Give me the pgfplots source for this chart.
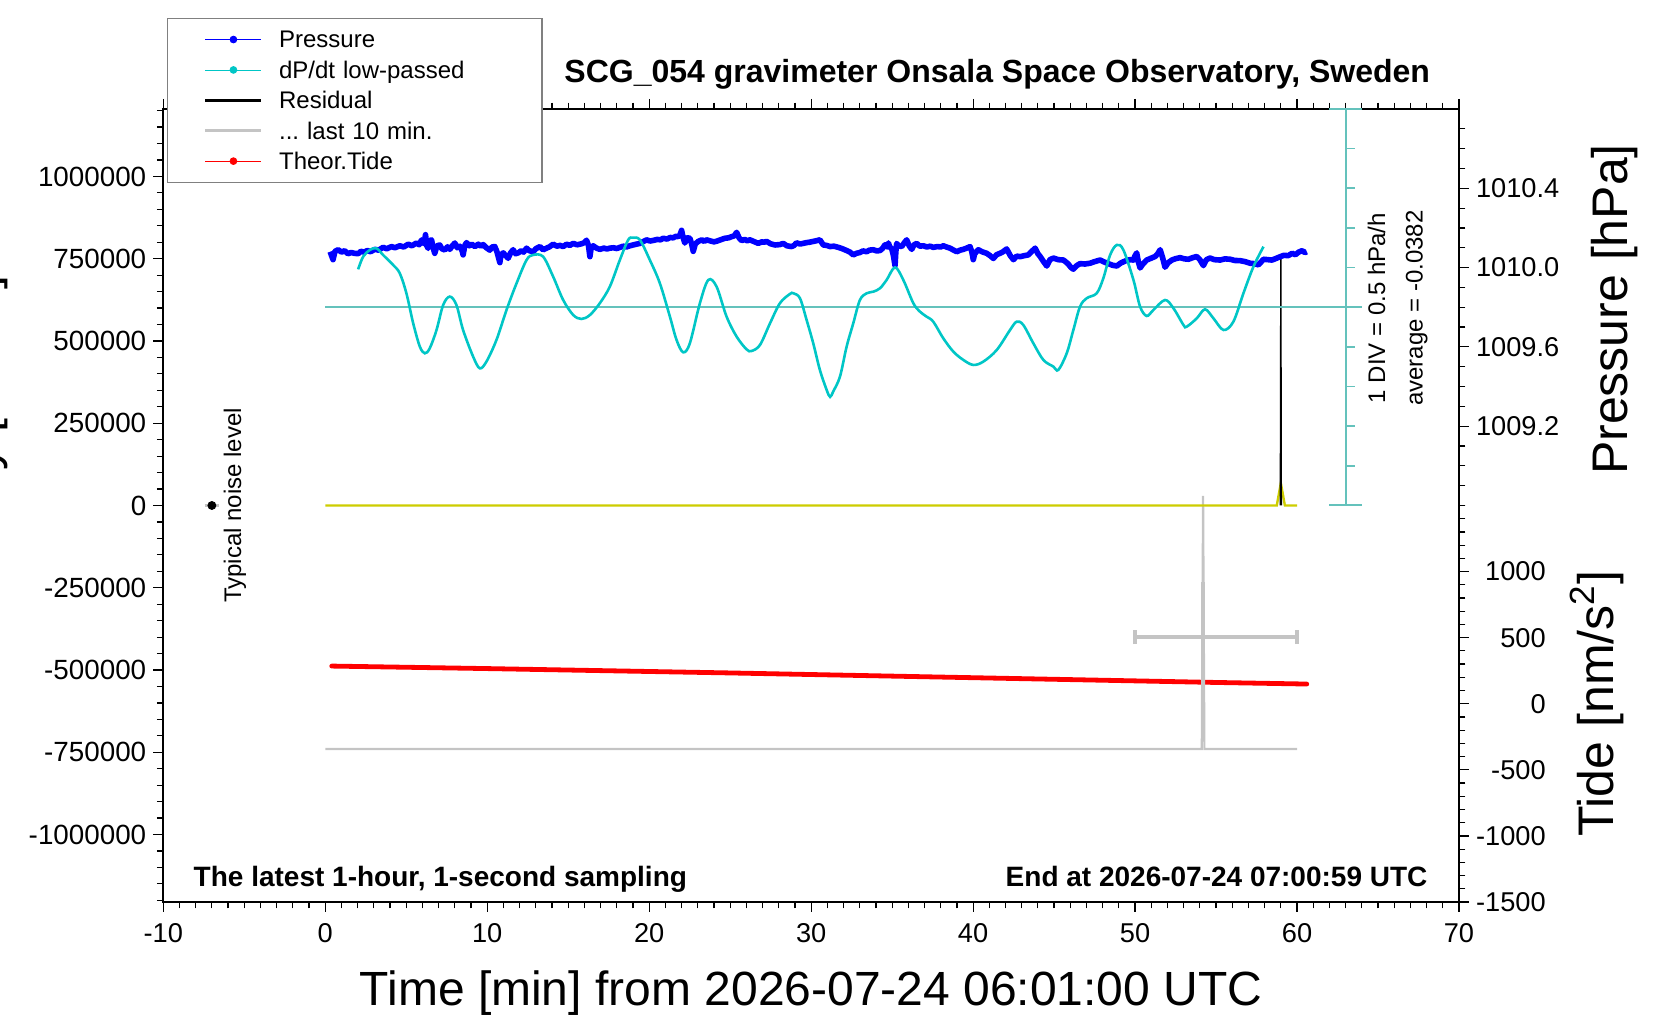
\documentclass[border=0pt]{standalone}
\usepackage{fontspec}
\setmainfont{Liberation Sans}
\usepackage{pgfplots}
\usepackage{pgfplotstable}
\pgfplotsset{compat=1.18}

\definecolor{presscol}{RGB}{0,0,255}
\definecolor{cyancol}{RGB}{0,198,198}
\definecolor{scalecol}{RGB}{100,194,188}
\definecolor{yelcol}{RGB}{205,205,0}
\definecolor{graycol}{RGB}{196,196,196}
\definecolor{legborder}{RGB}{128,128,128}

\pgfplotstableread[row sep=\\]{
x p\\
0.30 1010.080\\ 0.48 1010.040\\ 0.60 1010.082\\ 0.80 1010.090\\ 1.00 1010.078\\
1.20 1010.085\\ 1.40 1010.070\\ 1.60 1010.076\\ 1.80 1010.072\\ 2.03 1010.070\\
2.20 1010.082\\ 2.40 1010.078\\ 2.60 1010.086\\ 2.80 1010.080\\ 3.06 1010.092\\
3.30 1010.088\\ 3.57 1010.102\\ 3.80 1010.095\\ 4.09 1010.106\\ 4.30 1010.100\\
4.60 1010.110\\ 4.85 1010.104\\ 5.12 1010.118\\ 5.35 1010.110\\ 5.63 1010.124\\
5.80 1010.115\\ 5.94 1010.139\\ 6.10 1010.120\\ 6.19 1010.166\\ 6.27 1010.110\\
6.35 1010.097\\ 6.45 1010.135\\ 6.56 1010.140\\ 6.66 1010.100\\ 6.76 1010.072\\
6.90 1010.110\\ 7.07 1010.114\\ 7.20 1010.095\\ 7.38 1010.089\\ 7.55 1010.105\\
7.69 1010.092\\ 7.85 1010.110\\ 8.00 1010.124\\ 8.15 1010.100\\ 8.31 1010.108\\
8.45 1010.085\\ 8.51 1010.064\\ 8.62 1010.112\\ 8.72 1010.126\\ 8.90 1010.110\\
9.05 1010.118\\ 9.24 1010.106\\ 9.45 1010.118\\ 9.60 1010.108\\ 9.75 1010.116\\
9.95 1010.100\\ 10.16 1010.088\\ 10.30 1010.104\\ 10.47 1010.106\\ 10.60 1010.080\\
10.78 1010.025\\ 10.85 1010.065\\ 10.99 1010.074\\ 11.15 1010.060\\ 11.29 1010.047\\
11.45 1010.075\\ 11.60 1010.090\\ 11.75 1010.070\\ 11.91 1010.074\\ 12.10 1010.085\\
12.25 1010.078\\ 12.43 1010.098\\ 12.60 1010.085\\ 12.84 1010.080\\ 13.00 1010.095\\
13.25 1010.106\\ 13.45 1010.090\\ 13.66 1010.098\\ 13.85 1010.105\\ 14.07 1010.118\\
14.30 1010.108\\ 14.50 1010.112\\ 14.69 1010.106\\ 14.90 1010.118\\ 15.10 1010.112\\
15.31 1010.122\\ 15.55 1010.115\\ 15.82 1010.120\\ 16.00 1010.126\\ 16.13 1010.138\\
16.25 1010.112\\ 16.34 1010.055\\ 16.42 1010.100\\ 16.54 1010.110\\ 16.75 1010.098\\
16.95 1010.092\\ 17.20 1010.098\\ 17.40 1010.094\\ 17.57 1010.098\\ 17.80 1010.100\\
18.00 1010.096\\ 18.19 1010.102\\ 18.40 1010.108\\ 18.60 1010.104\\ 18.81 1010.110\\
19.00 1010.114\\ 19.20 1010.118\\ 19.43 1010.122\\ 19.60 1010.130\\ 19.84 1010.140\\
20.05 1010.134\\ 20.25 1010.137\\ 20.50 1010.142\\ 20.70 1010.140\\ 20.86 1010.148\\
21.10 1010.144\\ 21.30 1010.152\\ 21.48 1010.150\\ 21.65 1010.158\\ 21.79 1010.156\\
21.90 1010.165\\ 22.00 1010.188\\ 22.10 1010.150\\ 22.20 1010.124\\ 22.35 1010.150\\
22.51 1010.148\\ 22.62 1010.120\\ 22.72 1010.082\\ 22.85 1010.120\\ 23.03 1010.132\\
23.25 1010.140\\ 23.40 1010.132\\ 23.54 1010.140\\ 23.80 1010.134\\ 24.00 1010.130\\
24.16 1010.133\\ 24.40 1010.140\\ 24.68 1010.148\\ 24.90 1010.150\\ 25.09 1010.156\\
25.25 1010.160\\ 25.40 1010.178\\ 25.55 1010.150\\ 25.71 1010.136\\ 25.90 1010.142\\
26.05 1010.135\\ 26.22 1010.140\\ 26.45 1010.132\\ 26.74 1010.122\\ 26.95 1010.130\\
27.10 1010.128\\ 27.25 1010.132\\ 27.50 1010.120\\ 27.77 1010.114\\ 28.07 1010.116\\
28.28 1010.122\\ 28.50 1010.110\\ 28.79 1010.106\\ 28.95 1010.112\\ 29.10 1010.125\\
29.31 1010.119\\ 29.50 1010.122\\ 29.72 1010.126\\ 29.90 1010.128\\ 30.13 1010.132\\
30.35 1010.136\\ 30.54 1010.140\\ 30.75 1010.114\\ 30.95 1010.112\\ 31.17 1010.106\\
31.40 1010.108\\ 31.68 1010.102\\ 31.90 1010.096\\ 32.19 1010.086\\ 32.40 1010.078\\
32.60 1010.064\\ 32.80 1010.072\\ 33.01 1010.076\\ 33.20 1010.084\\ 33.43 1010.080\\
33.60 1010.088\\ 33.84 1010.090\\ 34.05 1010.084\\ 34.25 1010.086\\ 34.40 1010.096\\
34.56 1010.115\\ 34.68 1010.104\\ 34.77 1010.124\\ 34.87 1010.100\\ 34.97 1010.098\\
35.08 1010.060\\ 35.18 1010.010\\ 35.23 1010.080\\ 35.28 1010.122\\ 35.40 1010.110\\
35.59 1010.106\\ 35.75 1010.125\\ 35.90 1010.140\\ 36.05 1010.110\\ 36.21 1010.092\\
36.35 1010.115\\ 36.52 1010.122\\ 36.70 1010.108\\ 36.93 1010.110\\ 37.15 1010.104\\
37.35 1010.108\\ 37.54 1010.102\\ 37.80 1010.106\\ 38.00 1010.104\\ 38.16 1010.110\\
38.35 1010.104\\ 38.57 1010.098\\ 38.80 1010.088\\ 38.99 1010.080\\ 39.20 1010.088\\
39.40 1010.092\\ 39.60 1010.098\\ 39.81 1010.106\\ 39.92 1010.080\\ 40.01 1010.040\\
40.10 1010.070\\ 40.32 1010.090\\ 40.55 1010.080\\ 40.84 1010.072\\ 41.05 1010.060\\
41.25 1010.046\\ 41.45 1010.065\\ 41.66 1010.072\\ 41.85 1010.080\\ 42.07 1010.094\\
42.30 1010.060\\ 42.49 1010.040\\ 42.70 1010.058\\ 42.90 1010.055\\ 43.15 1010.060\\
43.41 1010.064\\ 43.60 1010.080\\ 43.83 1010.098\\ 44.00 1010.070\\ 44.14 1010.056\\
44.35 1010.030\\ 44.55 1010.008\\ 44.75 1010.040\\ 44.96 1010.048\\ 45.25 1010.040\\
45.58 1010.038\\ 45.85 1010.020\\ 46.05 1010.000\\ 46.19 1009.992\\ 46.40 1010.010\\
46.60 1010.020\\ 46.90 1010.018\\ 47.22 1010.022\\ 47.50 1010.030\\ 47.84 1010.038\\
48.10 1010.028\\ 48.35 1010.020\\ 48.60 1010.012\\ 48.87 1010.008\\ 49.10 1010.022\\
49.30 1010.030\\ 49.48 1010.036\\ 49.70 1010.040\\ 49.90 1010.038\\ 50.00 1010.060\\
50.10 1010.074\\ 50.20 1010.030\\ 50.31 1009.998\\ 50.50 1010.020\\ 50.72 1010.038\\
50.95 1010.046\\ 51.24 1010.056\\ 51.40 1010.070\\ 51.55 1010.090\\ 51.70 1010.050\\
51.85 1010.002\\ 52.05 1010.025\\ 52.27 1010.038\\ 52.50 1010.045\\ 52.78 1010.050\\
53.05 1010.044\\ 53.30 1010.042\\ 53.55 1010.050\\ 53.81 1010.056\\ 54.00 1010.040\\
54.22 1010.010\\ 54.40 1010.040\\ 54.63 1010.048\\ 54.90 1010.040\\ 55.25 1010.038\\
55.55 1010.044\\ 55.87 1010.042\\ 56.15 1010.036\\ 56.48 1010.035\\ 56.80 1010.030\\
57.10 1010.022\\ 57.35 1010.020\\ 57.62 1010.014\\ 57.80 1010.030\\ 57.93 1010.042\\
58.20 1010.040\\ 58.45 1010.038\\ 58.70 1010.046\\ 58.96 1010.055\\ 59.20 1010.062\\
59.45 1010.060\\ 59.70 1010.072\\ 59.90 1010.065\\ 60.10 1010.078\\ 60.30 1010.085\\
60.50 1010.076\\ 60.60 1010.080\\
}\pressdata

\pgfplotstableread[row sep=\\]{
x v\\
2.03 0.478\\ 2.34 0.638\\ 2.75 0.722\\ 3.16 0.743\\ 3.57 0.659\\ 4.19 0.533\\
4.60 0.428\\ 5.01 0.176\\ 5.43 -0.203\\ 5.84 -0.497\\ 6.15 -0.581\\ 6.45 -0.518\\
6.87 -0.287\\ 7.28 0.028\\ 7.69 0.134\\ 8.10 0.028\\ 8.51 -0.287\\ 9.13 -0.623\\
9.54 -0.770\\ 9.95 -0.686\\ 10.57 -0.413\\ 11.19 -0.035\\ 11.81 0.302\\ 12.43 0.596\\
12.84 0.659\\ 13.45 0.638\\ 14.07 0.386\\ 14.69 0.091\\ 15.31 -0.098\\ 15.82 -0.148\\
16.34 -0.098\\ 16.95 0.050\\ 17.57 0.260\\ 18.19 0.596\\ 18.70 0.848\\ 19.01 0.877\\
19.43 0.848\\ 20.04 0.596\\ 20.66 0.302\\ 21.28 -0.119\\ 21.69 -0.413\\ 22.10 -0.568\\
22.51 -0.455\\ 23.13 0.050\\ 23.65 0.344\\ 24.16 0.260\\ 24.78 -0.119\\ 25.40 -0.371\\
26.01 -0.531\\ 26.32 -0.552\\ 26.84 -0.476\\ 27.46 -0.203\\ 28.07 0.050\\ 28.69 0.167\\
28.90 0.176\\ 29.31 0.113\\ 29.72 -0.161\\ 30.13 -0.455\\ 30.54 -0.791\\ 30.96 -1.044\\
31.17 -1.130\\ 31.37 -1.060\\ 31.78 -0.875\\ 32.19 -0.497\\ 32.60 -0.203\\ 33.01 0.091\\
33.43 0.176\\ 33.84 0.196\\ 34.25 0.239\\ 34.66 0.344\\ 35.18 0.503\\ 35.69 0.344\\
36.31 0.050\\ 36.72 -0.056\\ 37.13 -0.119\\ 37.54 -0.182\\ 38.16 -0.392\\ 38.78 -0.560\\
39.40 -0.665\\ 40.01 -0.728\\ 40.63 -0.686\\ 41.46 -0.539\\ 42.28 -0.287\\ 42.69 -0.182\\
43.10 -0.224\\ 43.72 -0.455\\ 44.34 -0.665\\ 44.96 -0.749\\ 45.26 -0.791\\ 45.78 -0.581\\
46.19 -0.287\\ 46.60 0.007\\ 47.01 0.113\\ 47.63 0.176\\ 48.04 0.365\\ 48.46 0.659\\
48.87 0.785\\ 49.28 0.722\\ 49.90 0.344\\ 50.31 0.007\\ 50.72 -0.110\\ 51.13 -0.035\\
51.85 0.091\\ 52.37 -0.013\\ 52.99 -0.224\\ 53.19 -0.245\\ 53.81 -0.140\\ 54.32 -0.026\\
54.84 -0.140\\ 55.46 -0.287\\ 56.07 -0.182\\ 56.69 0.176\\ 57.31 0.512\\ 57.93 0.764\\
}\dpdata

\pgfplotstableread[row sep=\\]{
x t\\
0.4 285\\ 5 276\\ 10 266\\ 15 255\\ 20 244\\ 25 233\\ 30 221\\
35 209\\ 40 197\\ 45 185\\ 50 173\\ 55 161\\ 60.6 149\\
}\tidedata

\pgfplotsset{
  base/.style={
    at={(0pt,0pt)}, anchor=south west,
    scale only axis, width=647.85pt, height=396.5pt,
    xmin=-10, xmax=70,
    axis line style={line width=1pt},
    tick style={black, line width=0.6pt},
    tick align=outside,
    major tick length=5pt, minor tick length=3.2pt,
    /pgf/number format/assume math mode=true,
    tick label style={font=\fontsize{13.6}{16}\selectfont},
    clip=false,
  }
}

\begin{document}
\begin{tikzpicture}
% ---------- Tide axis (lower right) ----------
\begin{axis}[base,
  ymin=-1500, ymax=4500,
  axis x line=none, axis y line*=right,
  ytick={-1500,-1000,-500,0,500,1000},
  minor ytick={-1400,-1300,...,1500},
  yticklabel style={/pgf/number format/1000 sep={}, text width=34.8pt, align=right},
]
\addplot[red, line width=2.4pt, line cap=round] table[x=x,y=t] {\tidedata};
\end{axis}

% ---------- Main (gravity) axis ----------
\begin{axis}[base,
  ymin=-1205000, ymax=1205000,
  xtick={-10,0,10,20,30,40,50,60,70},
  minor xtick={-10,-9,...,70},
  xtick pos=both,
  xticklabel style={yshift=-2.4pt},
  ytick={-1000000,-750000,-500000,-250000,0,250000,500000,750000,1000000},
  minor ytick={-1200000,-1150000,-1100000,-1050000,-1000000,-950000,-900000,-850000,-800000,-750000,-700000,-650000,-600000,-550000,-500000,-450000,-400000,-350000,-300000,-250000,-200000,-150000,-100000,-50000,0,50000,100000,150000,200000,250000,300000,350000,400000,450000,500000,550000,600000,650000,700000,750000,800000,850000,900000,950000,1000000,1050000,1100000,1150000,1200000},
  ytick pos=left,
  scaled y ticks=false,
  yticklabel style={/pgf/number format/fixed, /pgf/number format/1000 sep={}, font=\fontsize{13.9}{16}\selectfont},
  legend cell align=left,
  legend image code/.code={\draw[mark repeat=2,mark phase=2,#1] plot coordinates {(0pt,0pt) (14pt,0pt) (28pt,0pt)};},
  legend style={at={(0.003,1.1148)}, anchor=north west,
    draw=legborder, line width=0.6pt, fill=white,
    inner xsep=18pt, inner ysep=4.5pt, row sep=3.2pt, column sep=8pt,
    font=\fontsize{12}{14}\selectfont,
    nodes={inner sep=0pt, text height=10.2pt, text depth=1.8pt},
    /tikz/every even column/.append style={text width=113.5pt}},
]
\addlegendimage{presscol, line width=0.4pt, mark=*, mark size=1.7pt}
\addlegendentry{Pressure}
\addlegendimage{cyancol, line width=0.4pt, mark=*, mark size=1.7pt}
\addlegendentry{dP/dt low-passed}
\addlegendimage{black, line width=1.3pt}
\addlegendentry{Residual}
\addlegendimage{graycol, line width=1.65pt}
\addlegendentry{...\ last 10 min.}
\addlegendimage{red, line width=0.4pt, mark=*, mark size=1.7pt}
\addlegendentry{Theor.Tide}

% last 10 min (gray)
\addplot[graycol, line width=1.1pt, forget plot] coordinates {(0,-740000) (54.12,-740000) (54.2,29000) (54.28,-740000) (60,-740000)};
\addplot[graycol, line width=2.2pt, forget plot] coordinates {(50,-400000) (60,-400000)};
\addplot[graycol, line width=2.2pt, forget plot] coordinates {(50,-421000) (50,-379000)};
\addplot[graycol, line width=2.2pt, forget plot] coordinates {(60,-421000) (60,-379000)};
\addplot[graycol, line width=2pt, forget plot] coordinates {(54.2,-565000) (54.2,-232000)};
% zero line and residual
\addplot[yelcol, line width=1.2pt, forget plot] coordinates {(0,0) (58.75,0) (59.0,68000) (59.25,0) (60,0)};
\addplot[black, line width=0.7pt, forget plot] coordinates {(58.97,0) (59.0,755000) (59.03,0)};
% typical noise level
\addplot[graycol, line width=1.2pt, forget plot] coordinates {(-7.45,0) (-6.55,0)};
\addplot[black, only marks, mark=*, mark size=2pt, forget plot] coordinates {(-7,0)};

\node[rotate=90, anchor=base, inner sep=0pt, font=\fontsize{12}{14}\selectfont] at (axis cs:-5.19,0) {Typical noise level};
\node[rotate=90, anchor=base, inner sep=0pt, font=\fontsize{12}{14}\selectfont] at (axis cs:65.44,600000) {1 DIV = 0.5 hPa/h};
\node[rotate=90, anchor=base, inner sep=0pt, font=\fontsize{12}{14}\selectfont] at (axis cs:67.75,600000) {average = -0.0382};

\node[anchor=base east, inner sep=0pt, font=\bfseries\fontsize{16}{19}\selectfont] at (rel axis cs:0.978,1.0328) {SCG\_054 gravimeter Onsala Space Observatory, Sweden};
\node[anchor=base west, inner sep=0pt, font=\bfseries\fontsize{14}{17}\selectfont] at (rel axis cs:0.0232,0.0193) {The latest 1-hour, 1-second sampling};
\node[anchor=base east, inner sep=0pt, font=\bfseries\fontsize{14}{17}\selectfont] at (rel axis cs:0.976,0.0193) {End at 2026-07-24 07:00:59 UTC};

\node[anchor=base, inner sep=0pt, font=\fontsize{24}{28}\selectfont] at (rel axis cs:0.5,-0.1299) {Time [min] from 2026-07-24 06:01:00 UTC};
\node[rotate=90, anchor=base, inner sep=0pt, font=\fontsize{25}{30}\selectfont] at (rel axis cs:1.1304,0.7472) {Pressure [hPa]};
\node[rotate=90, anchor=base, inner sep=0pt, font=\fontsize{25}{30}\selectfont] at (rel axis cs:1.1189,0.2497) {Tide [nm/s\textsuperscript{2}]};
\node[rotate=90, anchor=base east, inner sep=0pt, font=\fontsize{25}{30}\selectfont] at (rel axis cs:-0.1276,0.7907) {Gravity [nm/s\textsuperscript{2}]};
\end{axis}

% ---------- Pressure axis (upper right) ----------
\begin{axis}[base,
  ymin=1006.8, ymax=1010.8,
  axis x line=none, axis y line*=right,
  ytick={1009.2,1009.6,1010.0,1010.4},
  minor ytick={1008.8,1008.9,1009.0,1009.1,1009.3,1009.4,1009.5,1009.7,1009.8,1009.9,1010.1,1010.2,1010.3,1010.5,1010.6,1010.7},
  yticklabel style={/pgf/number format/.cd, fixed, fixed zerofill, precision=1, 1000 sep={}},
]
\addplot[presscol, line width=2.8pt, line join=round] table[x=x,y=p] {\pressdata};
\end{axis}

% ---------- dP/dt axis (hidden) ----------
\begin{axis}[base, ymin=-7.5, ymax=2.5, hide axis]
\addplot[scalecol, line width=1pt] coordinates {(0,0) (64,0)};
\addplot[scalecol, line width=1pt] coordinates {(63,-2.5) (63,2.5)};
\addplot[scalecol, line width=1pt] coordinates {(62,-2.5) (64,-2.5)};
\addplot[scalecol, line width=1pt] coordinates {(62,2.5) (64,2.5)};
\pgfplotsinvokeforeach{-2,-1.5,-1,-0.5,0.5,1,1.5,2}{
  \addplot[scalecol, line width=0.8pt] coordinates {(63,#1) (63.55,#1)};
}
\addplot[cyancol, line width=1.3pt, smooth, tension=0.55] table[x=x,y=v] {\dpdata};
\end{axis}

\pgfresetboundingbox
\useasboundingbox (-81.65pt,-59pt) rectangle (748.35pt,451pt);
\end{tikzpicture}
\end{document}
